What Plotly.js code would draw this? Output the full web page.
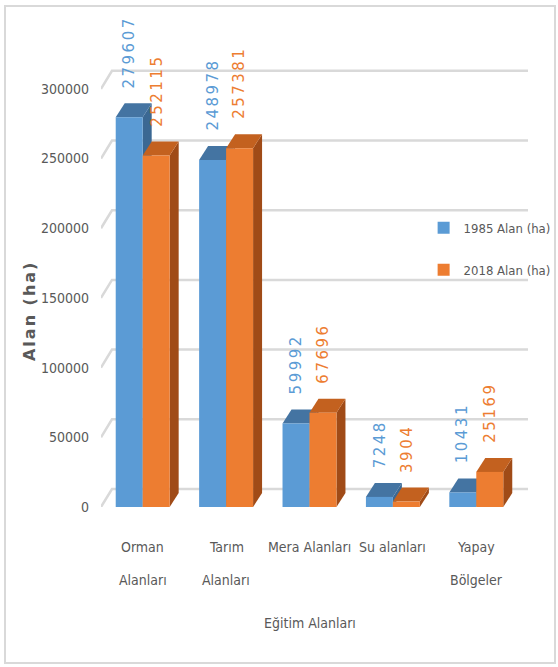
<!DOCTYPE html>
<html>
<head>
<meta charset="utf-8">
<script src="https://cdn.plot.ly/plotly-3.0.1.min.js"></script>
<style>
  html, body { margin: 0; padding: 0; background: #fff; }
  #wrap { position: relative; width: 558px; height: 667px; }
  #chart { position: absolute; left: 0; top: 0; width: 558px; height: 667px; }
  #frame { position: absolute; left: 4px; top: 5px; width: 548px; height: 655px;
           border: 2px solid #d9d9d9; pointer-events: none; }
  text[style*="font-size: 15px"] { letter-spacing: 2.5px; }
  text[style*="font-size: 16px"] { letter-spacing: 2px; }
</style>
</head>
<body>
<div id="wrap"><div id="chart"></div><div id="frame"></div></div>
<script>
// ---- data ----
const categories = ["Orman Alanları", "Tarım Alanları", "Mera Alanları", "Su alanları", "Yapay Bölgeler"];
const categoryLines = [["Orman", "Alanları"], ["Tarım", "Alanları"], ["Mera Alanları"], ["Su alanları"], ["Yapay", "Bölgeler"]];
const values1985 = [279607, 248978, 59992, 7248, 10431];
const values2018 = [252115, 257381, 67696, 3904, 25169];
const seriesNames = ["1985 Alan (ha)", "2018 Alan (ha)"];
const yTickValues = [0, 50000, 100000, 150000, 200000, 250000, 300000];
const xAxisTitle = "Eğitim Alanları";
const yAxisTitle = "Alan (ha)";

// ---- style ----
const W = 558, H = 667;
const mL = 101, mR = 29.5, mB = 160;
const yMax = 320000;
const frontTopPx = 89;               // pixel of 300000 on the front plane
const plotH = (H - mB - frontTopPx) * yMax / 300000;
const mT = H - mB - plotH;
const xRange = [-0.5, 4.62];
const plotW = W - mL - mR;
const pxX = plotW / (xRange[1] - xRange[0]);
const pxY = plotH / yMax;
const gray = "#595959";
const narrow = "'Liberation Sans Narrow', 'Arial Narrow', 'DejaVu Sans Condensed', sans-serif";
const wide = "'DejaVu Sans', Verdana, sans-serif";
const colFront = ["#5B9BD5", "#ED7D31"];
const colTop = ["#4474A2", "#C3611F"];
const colSide = ["#3B6893", "#A04B17"];
const bargap = 0.353;
const bw = (1 - bargap) / 2;
const depthDx = 9 / pxX, depthDy = 14 / pxY;
const wallDx = 11 / pxX, wallDy = 18 / pxY;

const xs = categories.map((_, i) => i);
const allSeries = [values1985, values2018];

const traces = allSeries.map((vals, s) => ({
  type: "bar",
  x: xs,
  y: vals,
  name: seriesNames[s],
  legendgroup: "g" + s,
  marker: { color: colFront[s], line: { width: 0 } },
  hoverinfo: "skip"
}));

const shapes = [];
// back-wall gridlines
yTickValues.forEach(v => {
  shapes.push({
    type: "path", xref: "x", yref: "y", layer: "below",
    path: `M ${xRange[0]},${v} L ${xRange[0] + wallDx},${v + wallDy} L ${xRange[1]},${v + wallDy}`,
    line: { color: "#d9d9d9", width: 2.5 }
  });
});
// 3D faces
allSeries.forEach((vals, s) => {
  vals.forEach((v, i) => {
    const xl = i - bw + s * bw, xr = xl + bw;
    shapes.push({
      type: "path", xref: "x", yref: "y", layer: "below",
      path: `M ${xr},0 L ${xr},${v} L ${xr + depthDx},${v + depthDy} L ${xr + depthDx},${depthDy} Z`,
      fillcolor: colSide[s], line: { width: 0 }
    });
    shapes.push({
      type: "path", xref: "x", yref: "y", layer: "below",
      path: `M ${xl},${v} L ${xl + depthDx},${v + depthDy} L ${xr + depthDx},${v + depthDy} L ${xr},${v} Z`,
      fillcolor: colTop[s], line: { width: 0 }
    });
  });
});

const annotations = [];
// value labels
allSeries.forEach((vals, s) => {
  vals.forEach((v, i) => {
    annotations.push({
      x: i - bw / 2 + s * bw, y: v, xref: "x", yref: "y",
      text: String(v), showarrow: false, textangle: -90,
      xanchor: "center", yanchor: "bottom", yshift: 27,
      font: { family: wide, size: 15, color: colFront[s] }
    });
  });
});
// category labels
categoryLines.forEach((lines, i) => {
  lines.forEach((ln, k) => {
    annotations.push({
      x: i, y: 0, xref: "x", yref: "y", text: ln, showarrow: false,
      xanchor: "center", yanchor: "middle", yshift: -40 - 33 * k,
      font: { family: narrow, size: 14, color: gray }
    });
  });
});
// axis titles
annotations.push({
  x: 2, y: 0, xref: "x", yref: "y", text: xAxisTitle, showarrow: false,
  xanchor: "center", yanchor: "middle", yshift: -116,
  font: { family: narrow, size: 14, color: gray }
});
annotations.push({
  x: (30 - mL) / plotW, y: (H - mB - 311) / pxY, xref: "paper", yref: "y",
  text: "<b>" + yAxisTitle + "</b>", showarrow: false, textangle: -90,
  xanchor: "center", yanchor: "middle",
  font: { family: wide, size: 16, color: gray }
});

const layout = {
  width: W, height: H,
  margin: { l: mL, r: mR, t: mT, b: mB, pad: 0, autoexpand: false },
  paper_bgcolor: "#fff", plot_bgcolor: "rgba(0,0,0,0)",
  barmode: "group", bargap: bargap, bargroupgap: 0,
  showlegend: true,
  legend: {
    x: (424 - mL) / plotW, xanchor: "left",
    y: (H - mB - 213) / plotH, yanchor: "top",
    font: { family: narrow, size: 13, color: gray },
    tracegroupgap: 22, bgcolor: "rgba(0,0,0,0)", itemwidth: 30
  },
  xaxis: { range: xRange, showticklabels: false, showgrid: false, zeroline: false,
           showline: false, ticks: "", fixedrange: true },
  yaxis: { range: [0, yMax], tickvals: yTickValues, ticktext: yTickValues.map(String),
           showgrid: false, zeroline: false, showline: false, ticks: "",
           ticklabelstandoff: 11, tickfont: { family: narrow, size: 14, color: gray },
           fixedrange: true },
  shapes: shapes,
  annotations: annotations
};

Plotly.newPlot("chart", traces, layout, { displayModeBar: false, staticPlot: true });
</script>
</body>
</html>
